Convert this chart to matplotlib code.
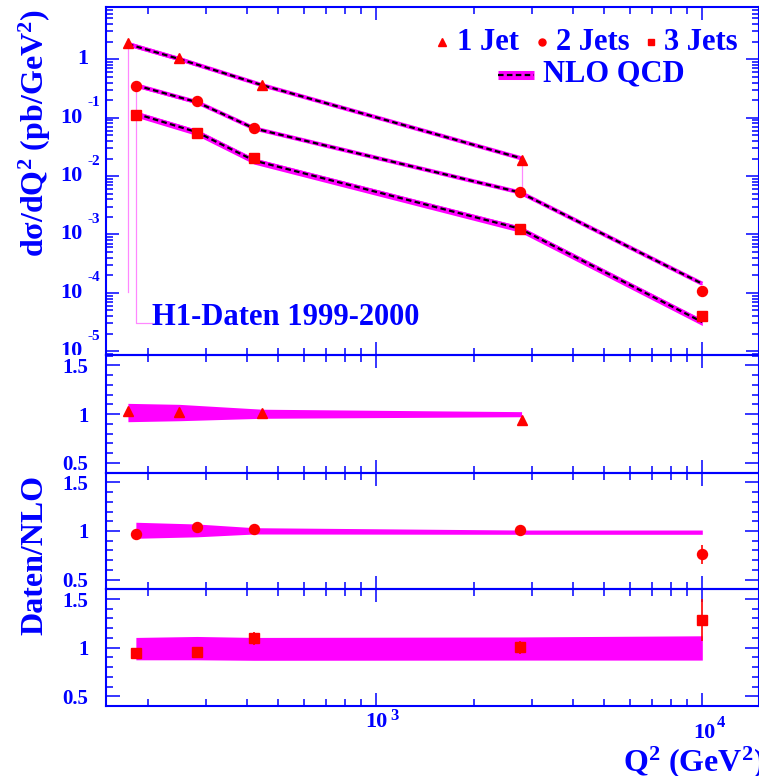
import numpy as np
import matplotlib
matplotlib.use('Agg')
import matplotlib.pyplot as plt
from matplotlib import transforms
from matplotlib.ticker import FixedLocator, NullFormatter

# H1 multi-jet cross sections vs Q^2, data compared to NLO QCD
q2_1jet = np.array([173., 248., 447., 2790.])
q2_njet = np.array([183., 282., 422., 2760., 10000.])

xs_1jet = np.array([1.88, 1.04, 0.363, 0.0189])
xs_2jet = np.array([0.349, 0.191, 0.0667, 0.00528, 1.09e-4])
xs_3jet = np.array([0.110, 0.054, 0.0202, 0.00126, 4.07e-5])

# data / NLO with statistical errors
ratio_1jet = np.array([1.032, 1.025, 1.008, 0.94])
ratio_2jet = np.array([0.972, 1.038, 1.017, 1.007, 0.76])
ratio_3jet = np.array([0.94, 0.958, 1.096, 1.003, 1.284])
err_1jet = np.array([0.02, 0.02, 0.02, 0.02])
err_2jet = np.array([0.02, 0.035, 0.02, 0.02, 0.10])
err_3jet = np.array([0.03, 0.03, 0.07, 0.07, 0.22])

# NLO scale uncertainty band (relative)
band_lo_1jet = np.array([0.922, 0.932, 0.957, 0.973])
band_hi_1jet = np.array([1.110, 1.100, 1.050, 1.025])
band_lo_2jet = np.array([0.925, 0.940, 0.969, 0.966, 0.966])
band_hi_2jet = np.array([1.090, 1.072, 1.034, 1.010, 1.010])
band_lo_3jet = np.array([0.875, 0.875, 0.870, 0.872, 0.872])
band_hi_3jet = np.array([1.105, 1.115, 1.105, 1.110, 1.122])

# lower end of the open band outlines at low Q^2
outline_floor = [1.05e-4, 3.1e-5]
outline_end_q2 = 205.

nlo_1jet = xs_1jet / ratio_1jet
nlo_2jet = xs_2jet / ratio_2jet
nlo_3jet = xs_3jet / ratio_3jet

BLUE = '#0000ff'
RED = '#ff0000'
MAGENTA = '#ff00ff'
PINK = '#ff88ff'

plt.rcParams['font.family'] = 'Liberation Serif'
plt.rcParams['font.weight'] = 'bold'
plt.rcParams['mathtext.fontset'] = 'custom'
plt.rcParams['mathtext.rm'] = 'Liberation Serif:bold'
plt.rcParams['mathtext.it'] = 'Liberation Serif:bold:italic'
plt.rcParams['mathtext.bf'] = 'Liberation Serif:bold'
plt.rcParams['mathtext.default'] = 'rm'

W, H = 759, 776
fig = plt.figure(figsize=(W / 100, H / 100), dpi=100)


def fx(px):
    return px / W


def fy(px):
    return 1 - px / H


def px_box(left, top, right, bottom):
    return [fx(left), fy(bottom), (right - left) / W, (bottom - top) / H]


LEFT, RIGHT = 105.7, 758.5
ax_main = fig.add_axes(px_box(LEFT, 6.7, RIGHT, 355.5))
ax_r1 = fig.add_axes(px_box(LEFT, 355.5, RIGHT, 472.7))
ax_r2 = fig.add_axes(px_box(LEFT, 472.7, RIGHT, 589.3))
ax_r3 = fig.add_axes(px_box(LEFT, 589.3, RIGHT, 706.0))
ratio_axes = [ax_r1, ax_r2, ax_r3]

x_minor = [m * 10 ** e for e in (2, 3) for m in range(2, 10)]

for ax in [ax_main] + ratio_axes:
    ax.set_xscale('log')
    ax.set_xlim(10 ** 2.1699, 10 ** 4.1724)
    for s in ax.spines.values():
        s.set_color(BLUE)
        s.set_linewidth(1.5)
    ax.xaxis.set_major_locator(FixedLocator([1e3, 1e4]))
    ax.xaxis.set_minor_locator(FixedLocator(x_minor))
    ax.xaxis.set_major_formatter(NullFormatter())
    ax.xaxis.set_minor_formatter(NullFormatter())
    ax.tick_params(which='both', direction='in', top=True, right=True,
                   color=BLUE, labelcolor=BLUE, labelbottom=False, width=1.1)
    ax.tick_params(which='major', length=9.5)
    ax.tick_params(which='minor', length=5)
    ax.set_facecolor('none')

# ---- main panel: cross sections ----
ax_main.set_yscale('log')
ax_main.set_ylim(10 ** -5.072, 10 ** 0.9007)
ax_main.yaxis.set_major_locator(FixedLocator([10.0 ** k for k in range(-5, 1)]))
ax_main.yaxis.set_minor_locator(FixedLocator([m * 10.0 ** k for k in range(-6, 1) for m in range(2, 10)]))
ax_main.yaxis.set_major_formatter(NullFormatter())
ax_main.yaxis.set_minor_formatter(NullFormatter())
ax_main.tick_params(axis='y', labelleft=False)


def draw_nlo(ax, q2, nlo, lo, hi):
    ax.fill_between(q2, nlo * lo, nlo * hi, color=MAGENTA, lw=0, zorder=2)
    ax.plot(q2, nlo, color=MAGENTA, lw=3.0, zorder=2, solid_capstyle='butt')
    ax.plot(q2, nlo, color='black', lw=1.6, dashes=(2.5, 1.5), zorder=3)


# thin outlines left open at the band edges
ax_main.plot([q2_1jet[0], q2_1jet[0]], [nlo_1jet[0], outline_floor[0]], color=PINK, lw=0.9, zorder=1)
ax_main.plot([q2_njet[0], q2_njet[0], outline_end_q2], [nlo_2jet[0], outline_floor[1], outline_floor[1]],
             color=PINK, lw=0.9, zorder=1)
ax_main.plot([q2_1jet[-1], q2_1jet[-1]], [nlo_1jet[-1], xs_2jet[3]], color=PINK, lw=0.9, zorder=1)

draw_nlo(ax_main, q2_1jet, nlo_1jet, band_lo_1jet, band_hi_1jet)
draw_nlo(ax_main, q2_njet, nlo_2jet, band_lo_2jet, band_hi_2jet)
draw_nlo(ax_main, q2_njet, nlo_3jet, band_lo_3jet, band_hi_3jet)

markers = [('^', 7.5), ('o', 7.2), ('s', 6.8)]
series = [(q2_1jet, xs_1jet, nlo_1jet, ratio_1jet, err_1jet, band_lo_1jet, band_hi_1jet),
          (q2_njet, xs_2jet, nlo_2jet, ratio_2jet, err_2jet, band_lo_2jet, band_hi_2jet),
          (q2_njet, xs_3jet, nlo_3jet, ratio_3jet, err_3jet, band_lo_3jet, band_hi_3jet)]

for (mk, ms), (q2, xs, nlo, ratio, err, lo, hi) in zip(markers, series):
    ax_main.errorbar(q2, xs, yerr=err * nlo, fmt=mk, ms=ms, color=RED, mec=RED,
                     elinewidth=1.2, capsize=0, zorder=4)

# ---- ratio panels ----
for ax, (mk, ms), (q2, xs, nlo, ratio, err, lo, hi) in zip(ratio_axes, markers, series):
    ax.set_ylim(0.4, 1.6)
    ax.set_yticks([0.5, 1.0, 1.5], ['0.5', '1', '1.5'])
    ax.yaxis.set_minor_locator(FixedLocator(np.round(np.arange(0.4, 1.61, 0.1), 2)))
    ax.tick_params(axis='y', which='major', labelsize=15, pad=12.5, length=10)
    ax.fill_between(q2, lo, hi, color=MAGENTA, lw=0, zorder=2)
    ax.errorbar(q2, ratio, yerr=err, fmt=mk, ms=ms, color=RED, mec=RED,
                elinewidth=1.2, capsize=0, zorder=4)

# ---- main panel tick labels (ROOT-like exponent placement) ----
main_clip = transforms.TransformedBbox(
    transforms.Bbox([[0, fy(355.5)], [1, 1]]), fig.transFigure)
ytrans = transforms.blended_transform_factory(fig.transFigure, ax_main.transData)
ysup = transforms.offset_copy(ytrans, fig=fig, x=0, y=15, units='dots')
for k in range(0, -6, -1):
    if k == 0:
        t = fig.text(fx(88), 1.0, '1', transform=ytrans, ha='right', va='center',
                     fontsize=16, color=BLUE)
        t.set_clip_box(main_clip)
        continue
    t = fig.text(fx(82.5), 10.0 ** k, '10', transform=ytrans, ha='right', va='center',
                 fontsize=16, color=BLUE)
    t.set_clip_box(main_clip)
    t.set_clip_on(True)
    s = fig.text(fx(87.5), 10.0 ** k, '-%d' % (-k), transform=ysup, ha='left', va='center',
                 fontsize=11, color=BLUE)

# x tick labels under the bottom panel
fig.text(fx(376), fy(722), '10', ha='center', va='center', fontsize=16, color=BLUE)
fig.text(fx(390), fy(716), '3', ha='left', va='center', fontsize=12, color=BLUE)
fig.text(fx(704), fy(733), '10', ha='center', va='center', fontsize=16, color=BLUE)
fig.text(fx(717), fy(723), '4', ha='left', va='center', fontsize=12, color=BLUE)

# axis titles
fig.text(fx(623), fy(771), r'Q$^{2}$ (GeV$^{2}$)', ha='left', va='baseline',
         fontsize=23, color=BLUE)
fig.text(fx(35), fy(9), r'd\u03c3/dQ$^{2}$ (pb/GeV$^{2}$)'.replace(r'\u03c3', '\u03c3'),
         rotation=90, ha='center', va='top', fontsize=23, color=BLUE)
fig.text(fx(35), fy(555), 'Daten/NLO', rotation=90, ha='center', va='center',
         fontsize=23, color=BLUE)

fig.text(fx(152), fy(325), 'H1-Daten 1999-2000', ha='left', va='baseline',
         fontsize=22, color=BLUE)

# legend
leg_y = fy(41.5)
for (mk, ms), x_mark, x_text, label in zip(markers, [441.7, 542, 651], [457, 555.5, 664],
                                          ['1 Jet', '2 Jets', '3 Jets']):
    ax_main.plot([fx(x_mark)], [leg_y], mk, ms=ms * 0.7, color=RED, transform=fig.transFigure,
                 clip_on=False)
    fig.text(fx(x_text), fy(50), label, ha='left', va='baseline', fontsize=22, color=BLUE)
ax_main.plot([fx(498), fx(534)], [fy(75), fy(75)], color=MAGENTA, lw=6.5, solid_capstyle='butt',
             transform=fig.transFigure, clip_on=False)
ax_main.plot([fx(498), fx(534)], [fy(75), fy(75)], color='black', lw=1.6, dashes=(2.5, 1.5),
             transform=fig.transFigure, clip_on=False)
fig.text(fx(543), fy(81.7), 'NLO QCD', ha='left', va='baseline', fontsize=22, color=BLUE)

fig.savefig('out.png', dpi=100)
